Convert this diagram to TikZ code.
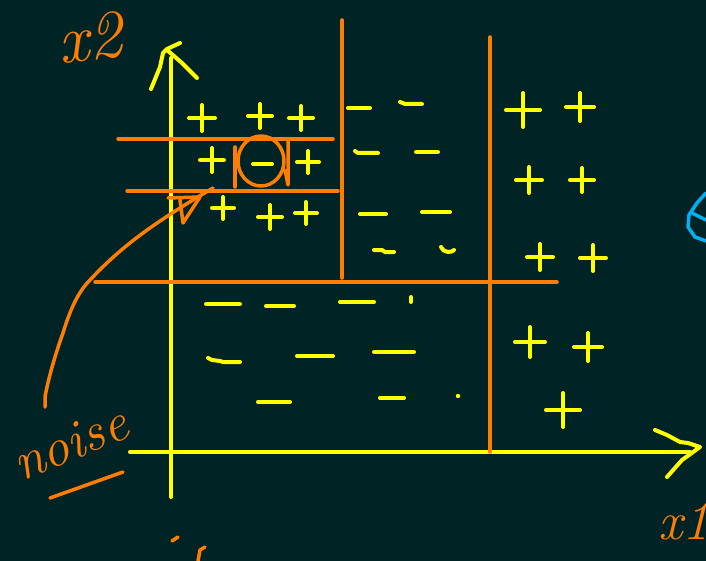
\documentclass[tikz,border=0pt]{standalone}
\usepackage{fontspec}
\definecolor{bg}{RGB}{0,35,38}
\definecolor{yel}{RGB}{255,255,0}
\definecolor{org}{RGB}{255,125,0}
\definecolor{blu}{RGB}{0,176,240}
\tikzset{
  ystroke/.style={draw=yel,line width=4pt,line cap=round,line join=round},
  ostroke/.style={draw=org,line width=3.5pt,line cap=round,line join=round},
  bstroke/.style={draw=blu,line width=3.5pt,line cap=round,line join=round},
  hand/.style={text=org,font=\itshape\fontsize{54}{54}\selectfont,inner sep=0pt}
}
\newcommand{\pls}[3]{\draw[ystroke] (#1-#3,#2)--(#1+#3,#2) (#1,#2-#3)--(#1,#2+#3);}
\newcommand{\mns}[3]{\draw[ystroke] (#1-#3,#2)--(#1+#3,#2);}
\begin{document}
\begin{tikzpicture}[x=1pt,y=-1pt]
\fill[bg] (0,0) rectangle (706,561);
\useasboundingbox (0,0) rectangle (706,561);
\begin{scope}
\clip (0,0) rectangle (706,561);
% axes
\draw[ystroke] (171,58)--(171,497);
\draw[ystroke] (151,89)--(160,67)--(163,53)--(167,49)--(180,43);
\draw[ystroke] (167,50)--(182,63)--(197,78);
\draw[ystroke] (130,452)--(690,452);
\draw[ystroke] (655,430)--(667,435)--(680,442)--(688,443)--(700,447)--(689,455)--(682,460)--(667,477);
% orange grid
\draw[ostroke] (342,20)--(342,278);
\draw[ostroke] (490,37)--(490,452);
\draw[ostroke] (95,282)--(557,282);
\draw[ostroke] (118,139)--(333,139);
\draw[ostroke] (127,191)--(338,191);
% circled point
\draw[ostroke] (261,161) circle[x radius=23,y radius=25];
\draw[ostroke] (235,147)--(235,187);
\draw[ostroke] (288,141)--(288,185) (285,170)--(288,185);
\draw[ystroke] (253,164)--(272,164);
% noise arrow
\draw[ostroke] (45,407)--(45,397) .. controls (48,380) and (55,355) .. (63,333)
  .. controls (70,310) and (78,292) .. (90,280)
  .. controls (120,248) and (150,225) .. (213,188);
\draw[ostroke] (168,198)--(200,197)--(183,223)--(180,200);
\node[hand,rotate=22] (noise) at (70,443) {noise};
\draw[ostroke] (50,498)--(123,472);
% axis labels
\node[hand,font=\itshape\fontsize{68}{68}\selectfont,rotate=6] (xtwo) at (90,38) {x2};
\node[hand,anchor=west] (xone) at (658,522) {x1};
\draw[ostroke] (172,541)--(178,537);
\draw[ostroke] (198,561)--(200,550)--(205,547);
% blue partial shape
\draw[bstroke] (706,193)--(697,203)--(689,215)--(688,227)--(695,237)--(706,241);
\draw[bstroke] (692,213)--(706,220);
% pluses top-left cell
\pls{202}{118}{13}
\pls{260}{116}{12}
\pls{301}{118}{12}
\pls{212}{160}{12}
\pls{308}{162}{11}
\pls{223}{208}{11}
\pls{270}{217}{12}
\pls{306}{213}{11}
% pluses right column
\pls{523}{110}{17}
\pls{580}{107}{14}
\pls{529}{180}{13}
\pls{582}{180}{12}
\pls{540}{257}{13}
\pls{593}{258}{13}
\pls{530}{342}{15}
\pls{588}{347}{14}
\pls{563}{410}{17}
% minuses middle top cell
\mns{359}{108}{11}
\draw[ystroke] (400,102)--(405,104)--(422,104);
\draw[ystroke] (355,151)--(358,153)--(378,153);
\mns{427}{152}{11}
\mns{373}{214}{13}
\mns{436}{212}{14}
\draw[ystroke] (374,250)--(382,250)--(385,252)--(394,252);
\draw[ystroke] (441,247) .. controls (443,253) and (452,253) .. (454,250);
% minuses lower cell
\mns{223}{304}{17}
\mns{280}{306}{14}
\mns{357}{302}{17}
\draw[ystroke] (411,297)--(411,302);
\draw[ystroke] (208,358)--(212,360)--(220,361)--(223,362)--(240,362);
\mns{315}{356}{18}
\mns{394}{352}{20}
\mns{274}{402}{16}
\mns{392}{398}{12}
\fill[yel] (458,396) circle (2.2pt);
\end{scope}
\end{tikzpicture}
\end{document}
